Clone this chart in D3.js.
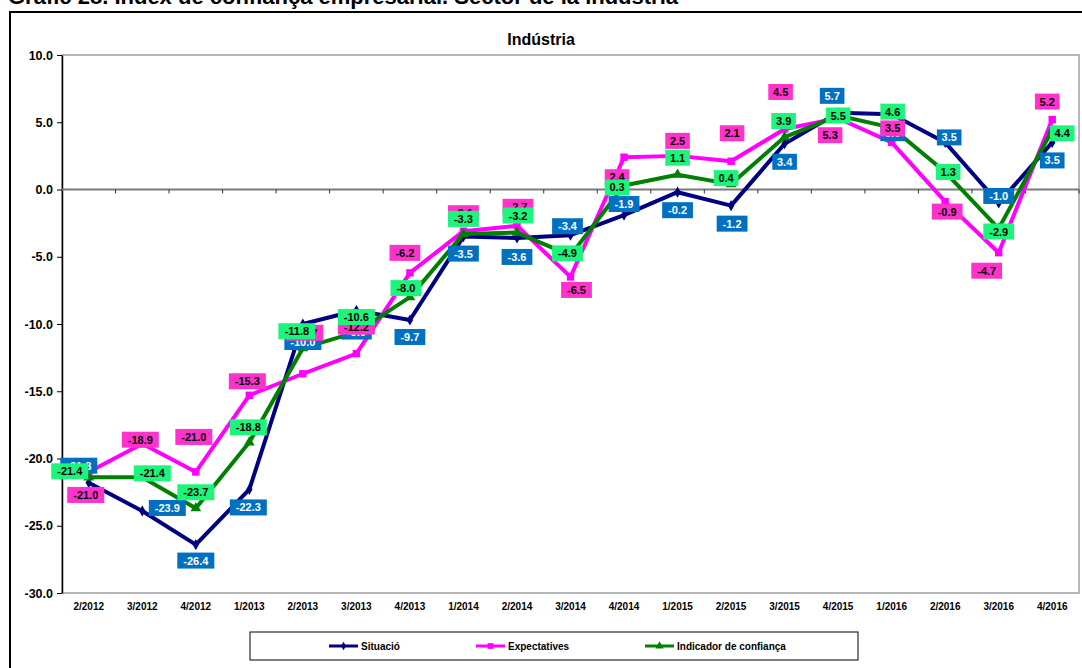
<!DOCTYPE html>
<html>
<head>
<meta charset="utf-8">
<script src="https://cdn.jsdelivr.net/npm/d3@7"></script>
<style>
  body { margin: 0; background: #fff; }
  svg { font-family: "Liberation Sans", Arial, sans-serif; }
</style>
</head>
<body>
<svg></svg>
<script>
var quarters = ["2/2012","3/2012","4/2012","1/2013","2/2013","3/2013","4/2013","1/2014","2/2014","3/2014",
                "4/2014","1/2015","2/2015","3/2015","4/2015","1/2016","2/2016","3/2016","4/2016"];
var situacio = [-21.8,-23.9,-26.4,-22.3,-10.0,-9.0,-9.7,-3.5,-3.6,-3.4,-1.9,-0.2,-1.2,3.4,5.7,5.6,3.5,-1.0,3.5];
var expectatives = [-21.0,-18.9,-21.0,-15.3,-13.7,-12.2,-6.2,-3.1,-2.7,-6.5,2.4,2.5,2.1,4.5,5.3,3.5,-0.9,-4.7,5.2];
var indicador = [-21.4,-21.4,-23.7,-18.8,-11.8,-10.6,-8.0,-3.3,-3.2,-4.9,0.3,1.1,0.4,3.9,5.5,4.6,1.3,-2.9,4.4];
var yTicks = [10,5,0,-5,-10,-15,-20,-25,-30];

// where each data label box sits relative to its point (dx, dy)
var offSit = [[-10,-17],[25,-3],[0,16],[-1,18],[0,18],[0,21],[0,17],[0,17],[0,19],[-3,-9],
              [0,-11],[0,18],[1,18],[0,18],[-6,-17],[1,19],[4,-5],[0,-7],[0,18]];
var offExp = [[-3,23],[-2,-4],[-2,-35],[-2,-14],[2,-41],[0,-27],[-5,-20],[0,-18],[1,-19],[6,13],
              [-7,20],[0,-15],[1,-28],[-4,-37],[-8,17],[1,-14],[2,10],[-12,18],[-5,-18]];
var offInd = [[-19,-6],[10,-4],[0,-16],[-1,-15],[-6,-17],[0,-15],[-4,-9],[0,-15],[1,-17],[-3,-2],
              [-7,2],[0,-17],[-5,-6],[-1,-16],[0,0],[1,-16],[3,0],[0,3],[10,3]];

var width = 1082, height = 668;
var svg = d3.select("svg").attr("width", width).attr("height", height);

var plot = {left: 62, right: 1079, top: 55, bottom: 593};

var xScale = d3.scaleBand().domain(quarters).range([plot.left, plot.right]);
var yScale = d3.scaleLinear().domain([-30, 10]).range([plot.bottom, plot.top]);
var xc = function(i){ return xScale(quarters[i]) + xScale.bandwidth() / 2; };
// plain hyphen instead of the unicode minus d3 uses
var fmt = function(v){ return d3.format(".1f")(v).replace("\u2212", "-"); };

// header (cut off at the top) and outer frame
svg.append("text").attr("x", 8).attr("y", 4)
   .attr("font-size", 22).attr("font-weight", "bold")
   .text("Gràfic 28. Índex de confiança empresarial. Sector de la indústria");
svg.append("rect").attr("x", 10).attr("y", 12).attr("width", 1090).attr("height", 680)
   .attr("fill", "none").attr("stroke", "#000").attr("stroke-width", 2);

svg.append("text").attr("x", 541).attr("y", 45).attr("text-anchor", "middle")
   .attr("font-size", 16).attr("font-weight", "bold").text("Indústria");

// plot area border
svg.append("rect").attr("x", plot.left).attr("y", plot.top)
   .attr("width", plot.right - plot.left).attr("height", plot.bottom - plot.top)
   .attr("fill", "none").attr("stroke", "#a0a0a0").attr("stroke-width", 1.5);

// y axis
var yAxis = d3.axisLeft(yScale).tickValues(yTicks).tickFormat(fmt).tickSize(5).tickSizeOuter(0);
var gy = svg.append("g").attr("transform", "translate(" + plot.left + ",0)").call(yAxis);
gy.select(".domain").attr("stroke", "#000").attr("stroke-width", 1.5);
gy.selectAll("text").attr("font-size", 12.5).attr("font-weight", "bold").attr("fill", "#000").attr("x", -9);

// zero line with category ticks
var gx = svg.append("g").attr("transform", "translate(0," + yScale(0) + ")");
gx.append("line").attr("x1", plot.left).attr("x2", plot.right).attr("stroke", "#7a7a7a").attr("stroke-width", 2);
gx.selectAll("line.tk").data(d3.range(1, quarters.length + 1)).enter().append("line")
  .attr("class", "tk")
  .attr("x1", function(i){ return plot.left + i * xScale.bandwidth(); })
  .attr("x2", function(i){ return plot.left + i * xScale.bandwidth(); })
  .attr("y1", 0).attr("y2", 4).attr("stroke", "#333").attr("stroke-width", 1);

// category labels at the bottom
svg.selectAll("text.cat").data(quarters).enter().append("text")
   .attr("class", "cat")
   .attr("x", function(d, i){ return xc(i); })
   .attr("y", 610).attr("text-anchor", "middle")
   .attr("font-size", 10).attr("font-weight", "bold").text(function(d){ return d; });

var series = [
  {name: "Situació", values: situacio, color: "#000080", symbol: d3.symbolDiamond, size: 36,
   box: "#0070C0", txt: "#fff", off: offSit},
  {name: "Expectatives", values: expectatives, color: "#FF00FF", symbol: d3.symbolSquare, size: 55,
   box: "#FF33CC", txt: "#000", off: offExp},
  {name: "Indicador de confiança", values: indicador, color: "#008000", symbol: d3.symbolTriangle, size: 50,
   box: "#1CF47C", txt: "#000", off: offInd}
];

var line = d3.line().x(function(d, i){ return xc(i); }).y(function(d){ return yScale(d); });

series.forEach(function(s){
  svg.append("path").datum(s.values).attr("d", line)
     .attr("fill", "none").attr("stroke", s.color).attr("stroke-width", 4).attr("stroke-linejoin", "round");
  svg.selectAll(null).data(s.values).enter().append("path")
     .attr("d", d3.symbol().type(s.symbol).size(s.size))
     .attr("transform", function(d, i){ return "translate(" + xc(i) + "," + yScale(d) + ")"; })
     .attr("fill", s.color);
});

// data labels
series.forEach(function(s){
  var g = svg.append("g");
  s.values.forEach(function(v, i){
    var cx = xc(i) + s.off[i][0], cy = yScale(v) + s.off[i][1];
    var t = fmt(v);
    var w = t.length * 6.2 + 6;
    g.append("rect").attr("x", cx - w / 2).attr("y", cy - 8).attr("width", w).attr("height", 16).attr("fill", s.box);
    g.append("text").attr("x", cx).attr("y", cy + 4).attr("text-anchor", "middle")
     .attr("font-size", 11).attr("font-weight", "bold").attr("fill", s.txt).text(t);
  });
});

// legend
var lg = svg.append("g");
lg.append("rect").attr("x", 250).attr("y", 632).attr("width", 608).attr("height", 28)
  .attr("fill", "#fff").attr("stroke", "#000").attr("stroke-width", 1);
var lx = [329, 476, 645];
series.forEach(function(s, k){
  lg.append("line").attr("x1", lx[k]).attr("x2", lx[k] + 29).attr("y1", 646).attr("y2", 646)
    .attr("stroke", s.color).attr("stroke-width", 3);
  lg.append("path").attr("d", d3.symbol().type(s.symbol).size(s.size * 0.6))
    .attr("transform", "translate(" + (lx[k] + 14.5) + ",646)").attr("fill", s.color);
  lg.append("text").attr("x", lx[k] + 32).attr("y", 650)
    .attr("font-size", 10).attr("font-weight", "bold").text(s.name);
});
</script>
</body>
</html>
